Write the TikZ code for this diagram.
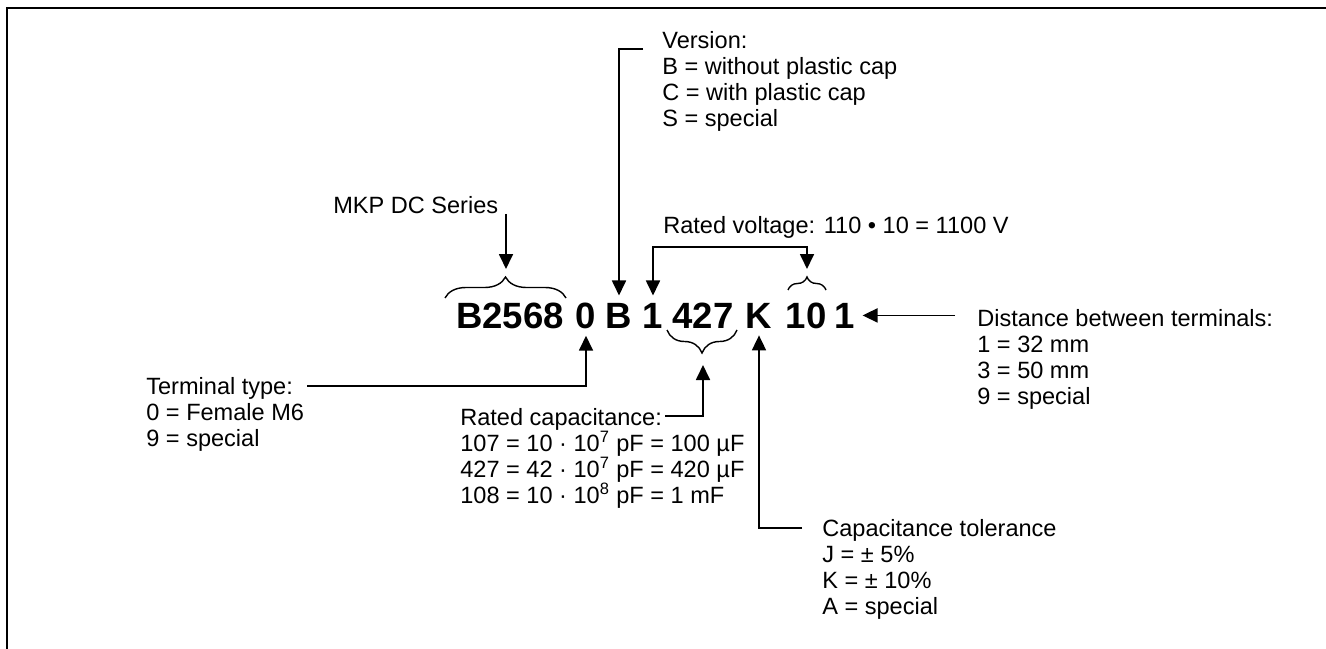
\documentclass[tikz,border=0pt]{standalone}
\usepackage{fontspec}
\setmainfont{Liberation Sans}
\usetikzlibrary{arrows.meta,decorations.pathreplacing,calc}

\tikzset{
  txt/.style={anchor=north west, align=left, inner sep=0pt, font=\fontsize{13.4}{14.8}\selectfont},
  code/.style={anchor=base, inner sep=4pt, font=\fontsize{20.8}{24}\selectfont\bfseries},
  lead/.style={line width=1pt, -{Triangle[length=0.3cm,width=0.28cm]}},
  twolead/.style={line width=1pt, {Triangle[length=0.3cm,width=0.28cm]}-{Triangle[length=0.3cm,width=0.28cm]}},
  brc/.style={line width=0.8pt, decorate, decoration={brace, amplitude=#1}}
}

\begin{document}
\begin{tikzpicture}[x=0.02cm, y=-0.02cm]
\useasboundingbox (0,0) rectangle (1326,649);

% frame
\draw[line width=1.4pt] (7,649) -- (7,8) -- (1326,8);

% ordering code
\node[code] (c2568) at (510,328) {B2568};
\node[code] (cterm) at (586,328) {0};
\node[code] (cver) at (619,328) {B};
\node[code] (cvolt) at (653,328) {1};
\node[code] (ccap) at (703,328) {427};
\node[code] (ctol) at (759,328) {K};
\node[code] (cmul) at (806,328) {10};
\node[code] (cdist) at (845,328) {1};

% braces
\draw[brc=0.42cm] (445,298) -- (566,298);
\draw[brc=0.26cm] (788,290) -- (826,290);
\draw[brc=0.46cm] (737,330) -- (667,330);
\coordinate (sertip) at (506,269);
\coordinate (multip) at (807,269);
\coordinate (captip) at (703,365);

% series
\node[txt] (ser) at (333,196) {MKP DC Series};
\draw[lead] (ser.south east -| sertip) -- (sertip);

% version
\node[txt] (ver) at (662,31) {Version:\\B = without plastic cap\\C = with plastic cap\\S = special};
\draw[lead] ($(ver.north west)+(-19,18)$) -| (cver.north);

% rated voltage
\node[txt] (volt) at (663,216) {Rated voltage: 110 • 10 = 1100 V};
\draw[twolead] (cvolt.north) |- ($(volt.south west)+(0,8)$) -| (multip);

% terminal type
\node[txt] (term) at (146,377) {Terminal type:\\0 = Female M6\\9 = special};
\draw[lead] ($(term.north west)+(161,9)$) -| (cterm.south);

% rated capacitance
\node[txt] (cap) at (460,408) {Rated capacitance:\\107 = 10 · 10\textsuperscript{7} pF = 100 µF\\427 = 42 · 10\textsuperscript{7} pF = 420 µF\\108 = 10 · 10\textsuperscript{8} pF = 1 mF};
\draw[lead] ($(cap.north west)+(205,8)$) -| (captip);

% tolerance
\node[txt] (tol) at (822,519) {Capacitance tolerance\\J = ± 5\%\\K = ± 10\%\\A = special};
\draw[lead] ($(tol.north west)+(-20,9)$) -| (ctol.south);

% distance
\node[txt] (dist) at (977,309) {Distance between terminals:\\1 = 32 mm\\3 = 50 mm\\9 = special};
\draw[lead] ($(dist.west |- cdist.east)+(-22,0)$) -- (cdist.east);

\end{tikzpicture}
\end{document}
